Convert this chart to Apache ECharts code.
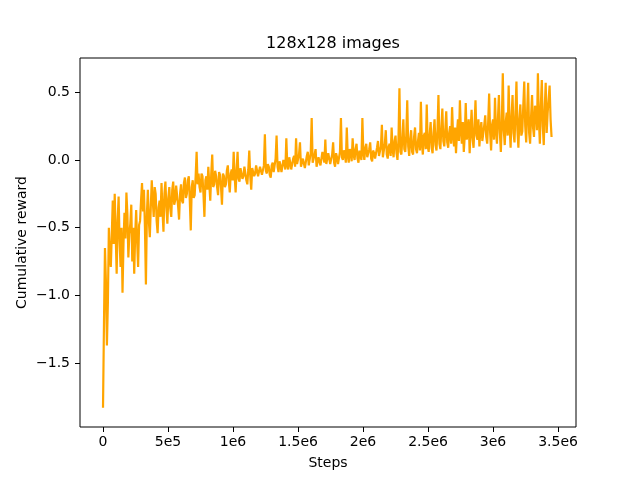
<!DOCTYPE html>
<html>
<head>
<meta charset="utf-8">
<script src="https://cdn.jsdelivr.net/npm/echarts@6/dist/echarts.min.js"></script>
<style>
  html, body { margin: 0; padding: 0; background: #fff; }
  #chart { width: 640px; height: 480px; }
</style>
</head>
<body>
<div id="chart"></div>
<script>
// logged every 7500 steps, starting at step 0
var stepInterval = 7500

// cumulative reward per log point
var rewards = [
  -1.83, -1.20, -0.65, -0.90, -1.37, -1.05, -0.50, -0.70, -0.79, -0.55,
  -0.30, -0.62, -0.25, -0.55, -0.84, -0.45, -0.27, -0.60, -0.79, -0.50,
  -0.98, -0.62, -0.39, -0.58, -0.24, -0.40, -0.72, -0.55, -0.47, -0.33,
  -0.75, -0.50, -0.84, -0.55, -0.37, -0.60, -0.79, -0.48, -0.45, -0.30,
  -0.17, -0.38, -0.22, -0.50, -0.92, -0.40, -0.22, -0.45, -0.57, -0.35,
  -0.15, -0.30, -0.42, -0.20, -0.25, -0.45,
  // 2e5 - 4.5e5
  -0.54, -0.35, -0.30, -0.42, -0.17, -0.38, -0.53, -0.25, -0.16, -0.35,
  -0.47, -0.28, -0.20, -0.36, -0.42, -0.22, -0.16, -0.33, -0.30, -0.19,
  -0.20, -0.34, -0.44, -0.25, -0.18, -0.30, -0.32, -0.17, -0.13, -0.28,
  -0.25, -0.15, -0.12, -0.30, -0.52, -0.20, -0.15, -0.28, -0.26, -0.12,
  0.06, -0.18, -0.10, -0.20, -0.24, -0.10, -0.12, -0.25, -0.42, -0.15,
  -0.12, -0.22, -0.05, -0.18, -0.30, -0.10, 0.04, -0.20, -0.18, -0.08,
  -0.12, -0.20,
  // 8.8e5 - 1.3e6
  -0.26, -0.09, -0.11, -0.20, -0.33, -0.10, -0.12, -0.20, -0.18, -0.08,
  -0.04, -0.16, -0.24, -0.10, -0.07, -0.15, 0.06, -0.12, -0.24, -0.08,
  0.06, -0.14, -0.16, -0.06, -0.07, -0.14, -0.12, -0.05, -0.10, -0.15,
  -0.18, -0.07, 0.07, -0.12, -0.22, -0.06, -0.05, -0.12, -0.10, -0.04,
  -0.08, -0.12, -0.13, -0.05, -0.06, -0.11, -0.10, -0.04, 0.19, -0.08,
  -0.10, -0.03, -0.05, -0.11, -0.13, -0.04, -0.02, -0.09, -0.08, 0.01,
  // 1.33e6 - 1.76e6
  0.18, -0.05, -0.09, -0.01, -0.04, -0.09, -0.10, 0.00, -0.03, -0.07,
  0.16, -0.04, -0.07, 0.02, -0.02, -0.07, -0.08, 0.01, 0.03, -0.05,
  0.16, -0.03, -0.04, 0.04, 0.13, -0.05, -0.06, 0.01, 0.02, -0.06,
  -0.05, 0.03, 0.06, -0.04, -0.03, 0.05, 0.31, -0.02, -0.02, 0.04,
  0.08, -0.05, -0.04, 0.02, 0.03, -0.04, -0.03, 0.06, 0.05, -0.02,
  0.15, -0.03, -0.02, 0.05, 0.06, -0.03, -0.03, 0.04,
  // 1.77e6 - 2.2e6
  0.13, -0.02, -0.05, 0.05, 0.02, -0.03, -0.04, 0.06, 0.31, 0.02,
  0.00, 0.07, 0.05, -0.02, 0.24, 0.03, -0.02, 0.08, 0.06, -0.01,
  0.16, 0.04, 0.00, 0.08, 0.12, 0.01, -0.02, 0.07, 0.08, 0.00,
  0.31, 0.05, 0.00, 0.09, 0.12, 0.02, 0.02, 0.08, 0.13, 0.01,
  -0.01, 0.07, 0.05, 0.01, 0.00, 0.09, 0.14, 0.03, 0.02, 0.10,
  0.26, 0.02, 0.03, 0.12, 0.22, 0.04, 0.01, 0.10, 0.12, 0.03,
  // 2.22e6 - 2.66e6
  0.24, 0.08, 0.02, 0.14, 0.18, 0.05, 0.00, 0.15, 0.53, 0.06,
  0.04, 0.16, 0.30, 0.08, 0.06, 0.18, 0.44, 0.10, 0.03, 0.15,
  0.22, 0.06, 0.04, 0.17, 0.24, 0.08, 0.05, 0.14, 0.20, 0.07,
  0.43, 0.12, 0.04, 0.18, 0.20, 0.08, 0.41, 0.10, 0.06, 0.19,
  0.28, 0.09, 0.05, 0.20, 0.30, 0.11, 0.07, 0.22, 0.48, 0.12,
  0.08, 0.24, 0.38, 0.14, 0.10, 0.22, 0.36, 0.13, 0.09, 0.20,
  // 2.67e6 - 3.11e6
  0.25, 0.12, 0.39, 0.18, 0.10, 0.24, 0.05, 0.20, 0.30, 0.14,
  0.44, 0.22, 0.12, 0.28, 0.06, 0.18, 0.42, 0.15, 0.20, 0.30,
  0.05, 0.22, 0.37, 0.16, 0.09, 0.25, 0.44, 0.18, 0.15, 0.30,
  0.10, 0.22, 0.28, 0.14, 0.15, 0.26, 0.33, 0.17, 0.12, 0.28,
  0.49, 0.20, 0.07, 0.26, 0.30, 0.15, 0.46, 0.22, 0.12, 0.30,
  0.48, 0.20, 0.06, 0.28, 0.64, 0.22, 0.11, 0.28, 0.35, 0.18,
  // 3.12e6 - 3.45e6
  0.55, 0.25, 0.09, 0.32, 0.48, 0.20, 0.13, 0.35, 0.58, 0.22,
  0.09, 0.30, 0.41, 0.18, 0.21, 0.40, 0.58, 0.25, 0.13, 0.36,
  0.57, 0.20, 0.12, 0.32, 0.48, 0.24, 0.17, 0.40, 0.38, 0.22,
  0.64, 0.30, 0.12, 0.40, 0.59, 0.25, 0.11, 0.38, 0.57, 0.20,
  0.35, 0.45, 0.55, 0.30, 0.17
]

var xTicks = [0, 500000, 1000000, 1500000, 2000000, 2500000, 3000000, 3500000]
var xTickLabels = ['0', '5e5', '1e6', '1.5e6', '2e6', '2.5e6', '3e6', '3.5e6']
var yTicks = [-1.5, -1.0, -0.5, 0.0, 0.5]
var yTickLabels = ['\u22121.5', '\u22121.0', '\u22120.5', '0.0', '0.5']

var font = 'DejaVu Sans'

var myChart = echarts.init(document.getElementById('chart'))

var option = {
  animation: false,
  backgroundColor: '#fff',
  title: {
    text: '128x128 images',
    left: 328,
    textAlign: 'center',
    top: 31,
    textStyle: { fontFamily: font, fontSize: 16, fontWeight: 'normal', color: '#000' }
  },
  grid: {
    left: 80,
    right: 64,
    top: 58,
    bottom: 53,
    show: true,
    borderColor: '#000',
    borderWidth: 1
  },
  xAxis: {
    type: 'value',
    min: -177000,
    max: 3638000,
    name: 'Steps',
    nameLocation: 'middle',
    nameGap: 29,
    nameMoveOverlap: false,
    nameTextStyle: { fontFamily: font, fontSize: 14, color: '#000' },
    axisLine: { show: false, onZero: false },
    splitLine: { show: false },
    axisTick: {
      show: true,
      length: 5,
      customValues: xTicks,
      lineStyle: { color: '#000', width: 1 }
    },
    axisLabel: {
      customValues: xTicks,
      margin: 8,
      fontFamily: font,
      fontSize: 14,
      color: '#000',
      formatter: function (v) {
        var i = xTicks.indexOf(v)
        return i >= 0 ? xTickLabels[i] : ''
      }
    }
  },
  yAxis: {
    type: 'value',
    min: -1.972,
    max: 0.753,
    name: 'Cumulative reward',
    nameLocation: 'middle',
    nameGap: 51,
    nameMoveOverlap: false,
    nameTextStyle: { fontFamily: font, fontSize: 14, color: '#000' },
    axisLine: { show: false, onZero: false },
    splitLine: { show: false },
    axisTick: {
      show: true,
      length: 5,
      customValues: yTicks,
      lineStyle: { color: '#000', width: 1 }
    },
    axisLabel: {
      customValues: yTicks,
      margin: 10,
      fontFamily: font,
      fontSize: 14,
      color: '#000',
      formatter: function (v) {
        for (var i = 0; i < yTicks.length; i++) {
          if (Math.abs(yTicks[i] - v) < 1e-9) return yTickLabels[i]
        }
        return ''
      }
    }
  },
  series: [{
    type: 'line',
    data: rewards.map(function (r, i) { return [i * stepInterval, r] }),
    showSymbol: false,
    lineStyle: { color: 'orange', width: 2.2 },
    itemStyle: { color: 'orange' }
  }]
}

myChart.setOption(option)
</script>
</body>
</html>
